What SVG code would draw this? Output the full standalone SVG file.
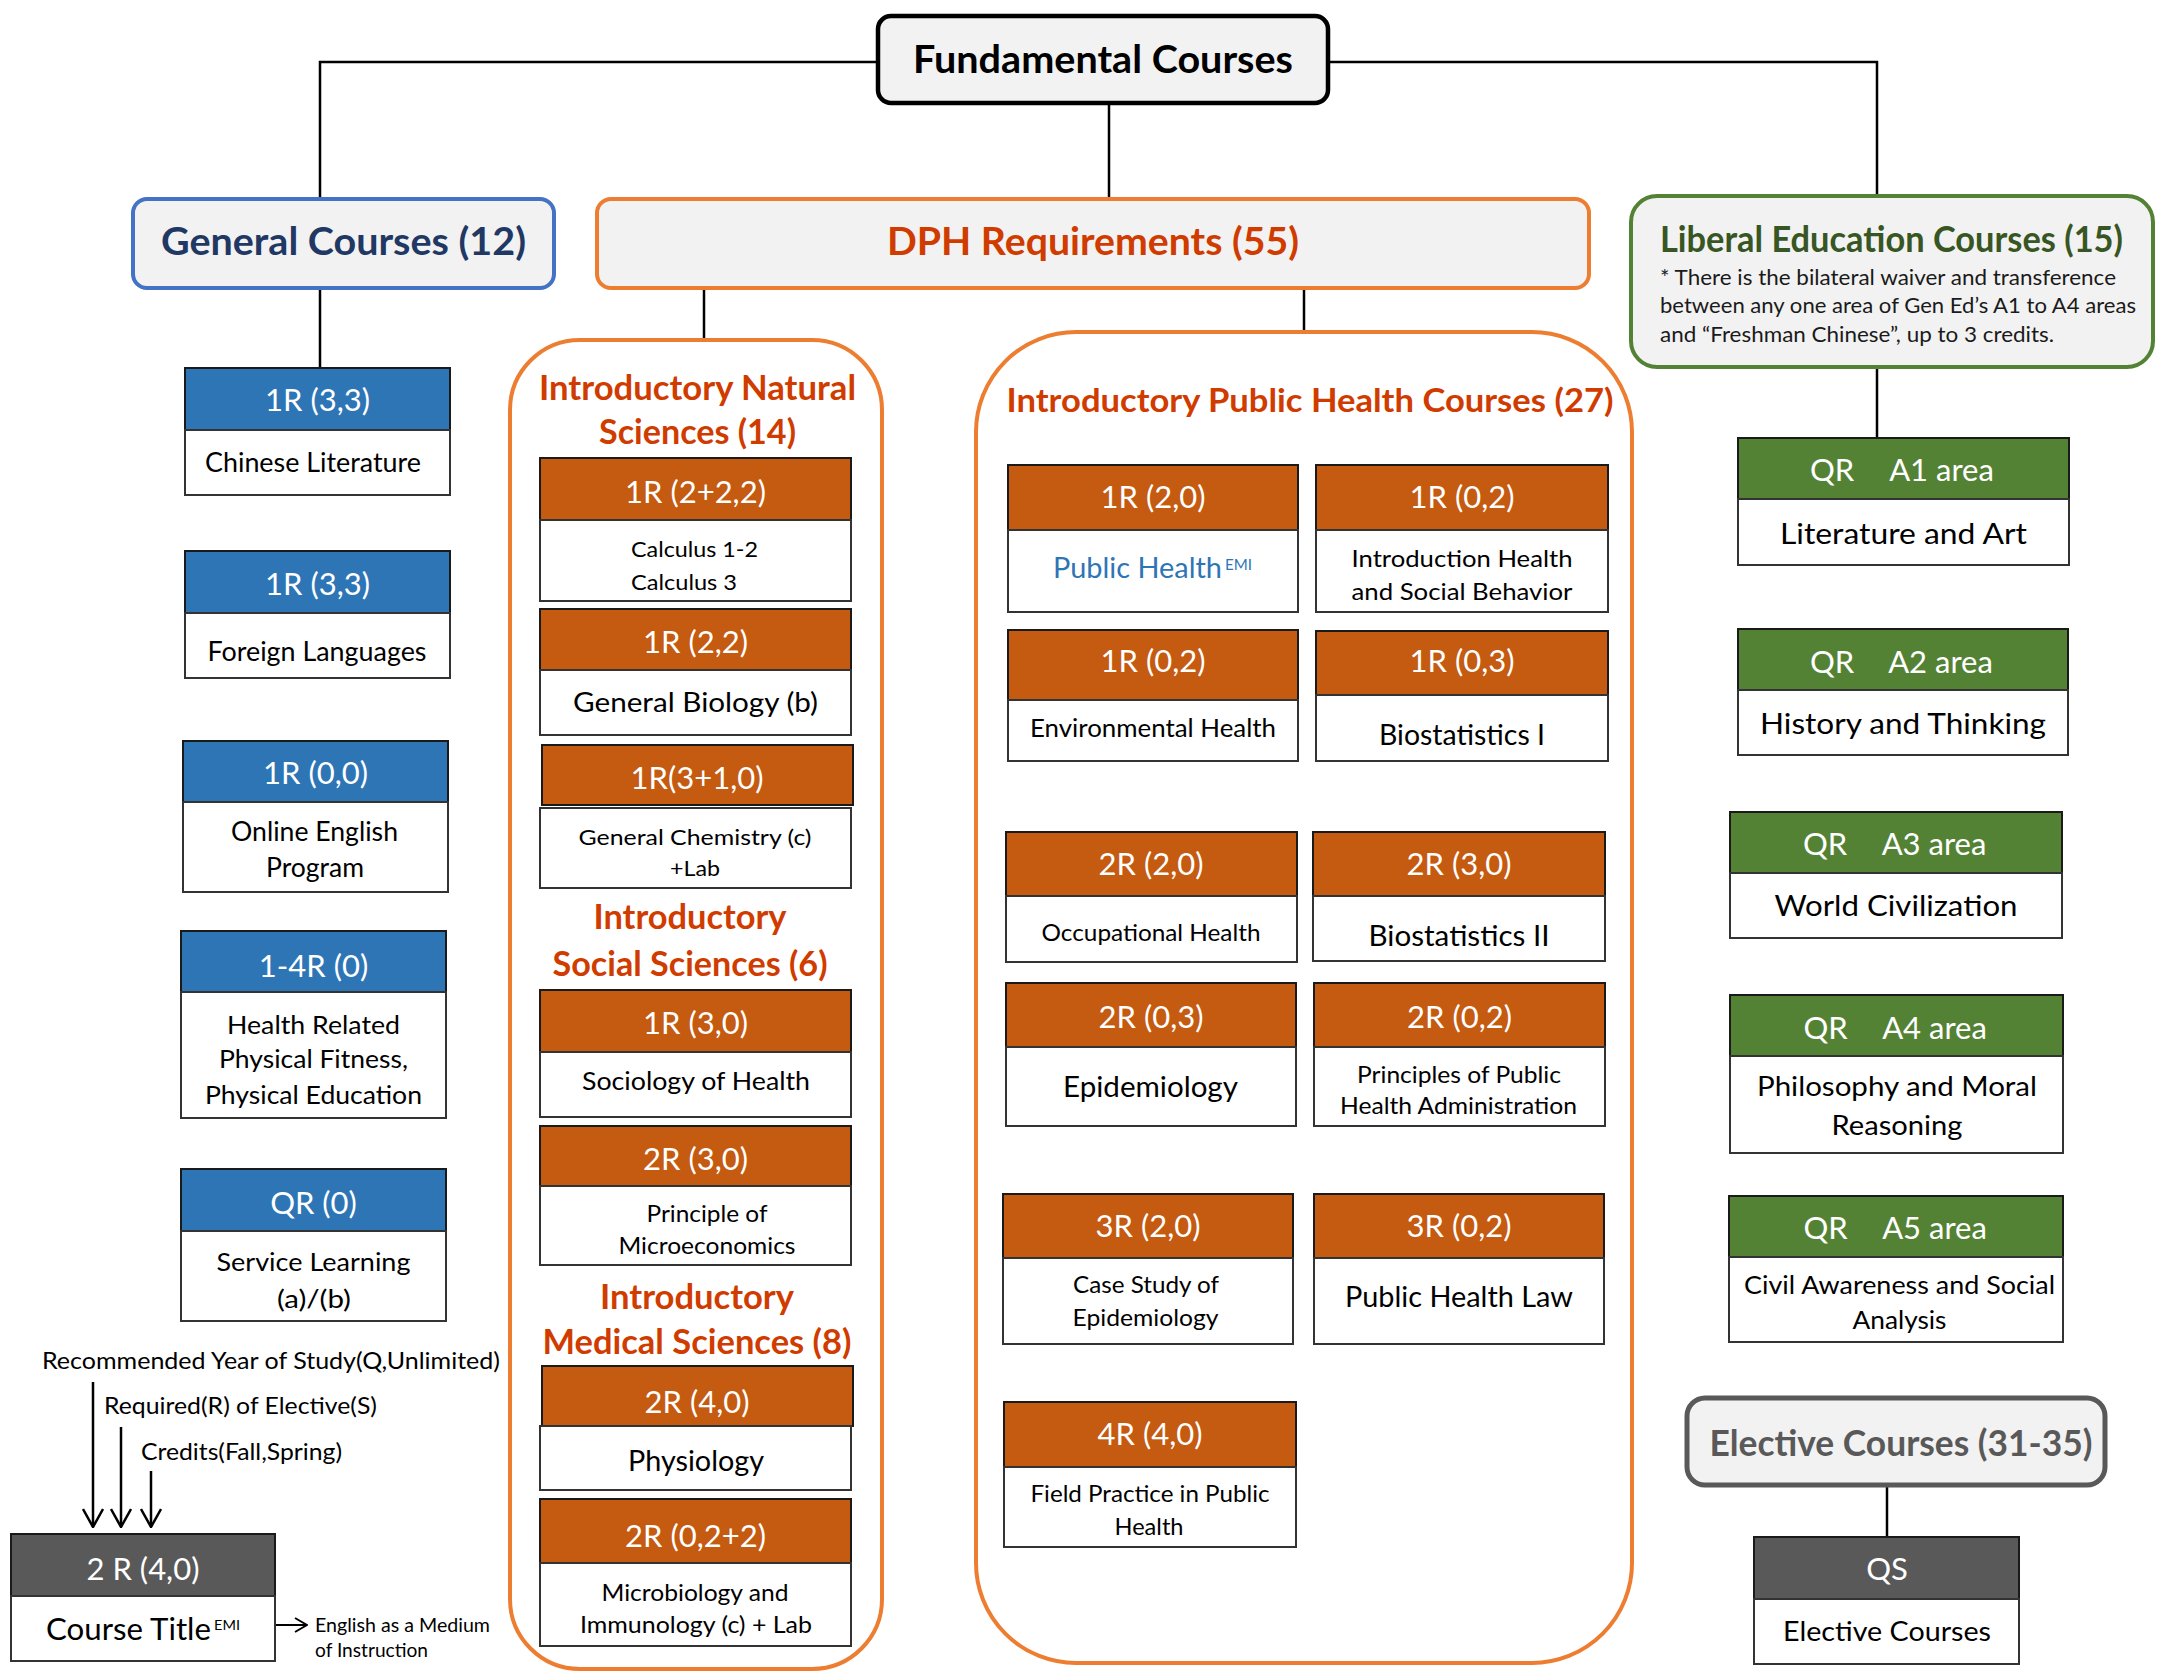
<svg xmlns="http://www.w3.org/2000/svg" width="2157" height="1675" viewBox="0 0 2157 1675">
<style>
text{font-family:Lato,"Liberation Sans",sans-serif}
.ht{fill:#fff;font-size:31px;text-anchor:middle}
.bt{fill:#000;text-anchor:middle}
.tb{font-weight:bold;text-anchor:middle}
.blue{fill:#2e75b6;stroke:#1a1a1a;stroke-width:2}
.org{fill:#c55a11;stroke:#1a1a1a;stroke-width:2}
.grn{fill:#548235;stroke:#1a1a1a;stroke-width:2}
.gry{fill:#595959;stroke:#1a1a1a;stroke-width:2}
.bd{fill:#fff;stroke:#333;stroke-width:2}
.ct{fill:none;stroke:#ed7d31;stroke-width:4}
.ln{fill:none;stroke:#000;stroke-width:2.5}
.ttlo{fill:#d03c00}
</style>
<defs>
<marker id="vee" viewBox="0 0 20 22" refX="19" refY="11" markerWidth="20" markerHeight="22" markerUnits="userSpaceOnUse" orient="auto">
<path d="M1,1 L19,11 L1,21" fill="none" stroke="#000" stroke-width="2.5"/>
</marker>
<marker id="vees" viewBox="0 0 14 16" refX="13" refY="8" markerWidth="14" markerHeight="16" markerUnits="userSpaceOnUse" orient="auto">
<path d="M1,1 L13,8 L1,15" fill="none" stroke="#000" stroke-width="2"/>
</marker>
<clipPath id="clipA5"><rect x="1729" y="1257" width="334" height="76"/></clipPath>
</defs>

<g id="connectors">
<polyline class="ln" points="877,62 320,62 320,198"/>
<polyline class="ln" points="1328,62 1877,62 1877,195"/>
<line class="ln" x1="1109" y1="103" x2="1109" y2="198"/>
<line class="ln" x1="320" y1="288" x2="320" y2="368"/>
<line class="ln" x1="704" y1="288" x2="704" y2="340"/>
<line class="ln" x1="1304" y1="288" x2="1304" y2="332"/>
<line class="ln" x1="1877" y1="368" x2="1877" y2="438"/>
<line class="ln" x1="1887" y1="1485" x2="1887" y2="1537"/>
<line class="ln" x1="93" y1="1382" x2="93" y2="1527" marker-end="url(#vee)"/>
<line class="ln" x1="121" y1="1427" x2="121" y2="1527" marker-end="url(#vee)"/>
<line class="ln" x1="151" y1="1471" x2="151" y2="1527" marker-end="url(#vee)"/>
<line x1="245" y1="1625" x2="307" y2="1625" stroke="#000" stroke-width="2" marker-end="url(#vees)"/>
</g>

<g id="fundamental">
<rect x="878" y="16" width="450" height="87" rx="13" fill="#f2f2f2" stroke="#000" stroke-width="4.5"/>
<text class="tb" x="1103" y="73" font-size="39" textLength="380" lengthAdjust="spacingAndGlyphs" fill="#000">Fundamental Courses</text>
</g>

<g id="general">
<rect x="133" y="199" width="421" height="89" rx="14" fill="#f2f2f2" stroke="#4472c4" stroke-width="4"/>
<text class="tb" x="343.5" y="255" font-size="39" textLength="365" lengthAdjust="spacingAndGlyphs" fill="#1f3864">General Courses (12)</text>
</g>

<g id="dph">
<rect x="597" y="199" width="992" height="89" rx="14" fill="#f2f2f2" stroke="#ed7d31" stroke-width="4"/>
<text class="tb ttlo" x="1093" y="255" font-size="39" textLength="412" lengthAdjust="spacingAndGlyphs">DPH Requirements (55)</text>
</g>

<g id="liberal">
<rect x="1631" y="196" width="522" height="171" rx="26" fill="#f2f2f2" stroke="#548235" stroke-width="4"/>
<text x="1660" y="252" font-size="36" font-weight="bold" fill="#375623" textLength="463" lengthAdjust="spacingAndGlyphs">Liberal Education Courses (15)</text>
<text x="1660" y="285" font-size="21" fill="#1a1a1a" textLength="456" lengthAdjust="spacingAndGlyphs">* There is the bilateral waiver and transference</text>
<text x="1660" y="313" font-size="21" fill="#1a1a1a" textLength="476" lengthAdjust="spacingAndGlyphs">between any one area of Gen Ed’s A1 to A4 areas</text>
<text x="1660" y="342" font-size="21" fill="#1a1a1a" textLength="394" lengthAdjust="spacingAndGlyphs">and “Freshman Chinese”, up to 3 credits.</text>
</g>

<!-- General column -->
<g id="gc1">
<rect class="blue" x="185" y="368" width="265" height="62"/>
<rect class="bd" x="185" y="430" width="265" height="65"/>
<text class="ht" x="317.5" y="411">1R (3,3)</text>
<text class="bt" x="313" y="472" font-size="27" textLength="216" lengthAdjust="spacingAndGlyphs">Chinese Literature</text>
</g>
<g id="gc2">
<rect class="blue" x="185" y="551" width="265" height="62"/>
<rect class="bd" x="185" y="613" width="265" height="65"/>
<text class="ht" x="317.5" y="595">1R (3,3)</text>
<text class="bt" x="317" y="661" font-size="27" textLength="219" lengthAdjust="spacingAndGlyphs">Foreign Languages</text>
</g>
<g id="gc3">
<rect class="blue" x="183" y="741" width="265" height="61"/>
<rect class="bd" x="183" y="802" width="265" height="90"/>
<text class="ht" x="315.5" y="784">1R (0,0)</text>
<text class="bt" x="314.5" y="841" font-size="26" textLength="167" lengthAdjust="spacingAndGlyphs">Online English</text>
<text class="bt" x="315" y="877" font-size="26" textLength="98" lengthAdjust="spacingAndGlyphs">Program</text>
</g>
<g id="gc4">
<rect class="blue" x="181" y="931" width="265" height="61"/>
<rect class="bd" x="181" y="992" width="265" height="126"/>
<text class="ht" x="313.5" y="977">1-4R (0)</text>
<text class="bt" x="313.5" y="1034" font-size="25" textLength="173" lengthAdjust="spacingAndGlyphs">Health Related</text>
<text class="bt" x="313.5" y="1068" font-size="25" textLength="189" lengthAdjust="spacingAndGlyphs">Physical Fitness,</text>
<text class="bt" x="313.5" y="1104" font-size="25" textLength="217" lengthAdjust="spacingAndGlyphs">Physical Education</text>
</g>
<g id="gc5">
<rect class="blue" x="181" y="1169" width="265" height="62"/>
<rect class="bd" x="181" y="1231" width="265" height="90"/>
<text class="ht" x="313.5" y="1214">QR (0)</text>
<text class="bt" x="313.5" y="1271" font-size="25" textLength="194" lengthAdjust="spacingAndGlyphs">Service Learning</text>
<text class="bt" x="314" y="1308" font-size="25" textLength="74" lengthAdjust="spacingAndGlyphs">(a)/(b)</text>
</g>

<g id="legend">
<text x="42" y="1369" font-size="23" textLength="458" lengthAdjust="spacingAndGlyphs">Recommended Year of Study(Q,Unlimited)</text>
<text x="104" y="1414" font-size="23" textLength="273" lengthAdjust="spacingAndGlyphs">Required(R) of Elective(S)</text>
<text x="141" y="1460" font-size="23" textLength="201" lengthAdjust="spacingAndGlyphs">Credits(Fall,Spring)</text>
<rect class="gry" x="11" y="1534" width="264" height="62"/>
<rect class="bd" x="11" y="1596" width="264" height="65"/>
<text class="ht" x="143" y="1580">2 R (4,0)</text>
<text x="46" y="1640" font-size="31" textLength="165" lengthAdjust="spacingAndGlyphs">Course Title</text>
<text x="214" y="1630" font-size="14" textLength="26" lengthAdjust="spacingAndGlyphs">EMI</text>
<text x="315" y="1632" font-size="19" textLength="175" lengthAdjust="spacingAndGlyphs">English as a Medium</text>
<text x="315" y="1657" font-size="19" textLength="113" lengthAdjust="spacingAndGlyphs">of Instruction</text>
</g>

<!-- Natural sciences column -->
<g id="natural">
<rect class="ct" x="510" y="340" width="372" height="1329" rx="70"/>
<text class="tb ttlo" x="697.5" y="399.5" font-size="34" textLength="317" lengthAdjust="spacingAndGlyphs">Introductory Natural</text>
<text class="tb ttlo" x="697.5" y="444" font-size="34" textLength="197" lengthAdjust="spacingAndGlyphs">Sciences (14)</text>
<text class="tb ttlo" x="690" y="929" font-size="34" textLength="193" lengthAdjust="spacingAndGlyphs">Introductory</text>
<text class="tb ttlo" x="690" y="976" font-size="34" textLength="275" lengthAdjust="spacingAndGlyphs">Social Sciences (6)</text>
<text class="tb ttlo" x="697" y="1309" font-size="34" textLength="194" lengthAdjust="spacingAndGlyphs">Introductory</text>
<text class="tb ttlo" x="697" y="1354" font-size="34" textLength="309" lengthAdjust="spacingAndGlyphs">Medical Sciences (8)</text>
</g>
<g id="ns1">
<rect class="org" x="540" y="458" width="311" height="62"/>
<rect class="bd" x="540" y="520" width="311" height="81"/>
<text class="ht" x="695.5" y="503">1R (2+2,2)</text>
<text x="631" y="557" font-size="22" textLength="127" lengthAdjust="spacingAndGlyphs">Calculus 1-2</text>
<text x="631" y="590" font-size="22" textLength="106" lengthAdjust="spacingAndGlyphs">Calculus 3</text>
</g>
<g id="ns2">
<rect class="org" x="540" y="609" width="311" height="61"/>
<rect class="bd" x="540" y="670" width="311" height="65"/>
<text class="ht" x="695.5" y="653">1R (2,2)</text>
<text class="bt" x="695.5" y="712" font-size="27" textLength="245" lengthAdjust="spacingAndGlyphs">General Biology (b)</text>
</g>
<g id="ns3">
<rect class="org" x="542" y="745" width="311" height="60"/>
<rect class="bd" x="540" y="808" width="311" height="80"/>
<text class="ht" x="697" y="789">1R(3+1,0)</text>
<text class="bt" x="695" y="844.5" font-size="22" textLength="233" lengthAdjust="spacingAndGlyphs">General Chemistry (c)</text>
<text class="bt" x="695" y="876" font-size="22" textLength="50" lengthAdjust="spacingAndGlyphs">+Lab</text>
</g>
<g id="ss1">
<rect class="org" x="540" y="990" width="311" height="62"/>
<rect class="bd" x="540" y="1052" width="311" height="65"/>
<text class="ht" x="695.5" y="1034">1R (3,0)</text>
<text class="bt" x="696" y="1090" font-size="25" textLength="228" lengthAdjust="spacingAndGlyphs">Sociology of Health</text>
</g>
<g id="ss2">
<rect class="org" x="540" y="1126" width="311" height="60"/>
<rect class="bd" x="540" y="1186" width="311" height="79"/>
<text class="ht" x="695.5" y="1170">2R (3,0)</text>
<text class="bt" x="707" y="1222" font-size="23" textLength="121" lengthAdjust="spacingAndGlyphs">Principle of</text>
<text class="bt" x="707" y="1254" font-size="23" textLength="177" lengthAdjust="spacingAndGlyphs">Microeconomics</text>
</g>
<g id="ms1">
<rect class="org" x="542" y="1366" width="311" height="60"/>
<rect class="bd" x="540" y="1426" width="311" height="64"/>
<text class="ht" x="697" y="1413">2R (4,0)</text>
<text class="bt" x="696" y="1471" font-size="28" textLength="136" lengthAdjust="spacingAndGlyphs">Physiology</text>
</g>
<g id="ms2">
<rect class="org" x="540" y="1499" width="311" height="64"/>
<rect class="bd" x="540" y="1563" width="311" height="83"/>
<text class="ht" x="695.5" y="1547">2R (0,2+2)</text>
<text class="bt" x="695" y="1600.5" font-size="24" textLength="187" lengthAdjust="spacingAndGlyphs">Microbiology and</text>
<text class="bt" x="696" y="1633" font-size="24" textLength="232" lengthAdjust="spacingAndGlyphs">Immunology (c) + Lab</text>
</g>

<!-- Public health column -->
<g id="publichealth">
<rect class="ct" x="976" y="332" width="656" height="1331" rx="100"/>
<text class="tb ttlo" x="1310" y="412" font-size="33" textLength="607" lengthAdjust="spacingAndGlyphs">Introductory Public Health Courses (27)</text>
</g>
<g id="ph1">
<rect class="org" x="1008" y="465" width="290" height="65"/>
<rect class="bd" x="1008" y="530" width="290" height="82"/>
<text class="ht" x="1153" y="508">1R (2,0)</text>
<text x="1053" y="578" font-size="28" fill="#2e75b6" textLength="169" lengthAdjust="spacingAndGlyphs">Public Health</text>
<text x="1225" y="570" font-size="15" fill="#2e75b6" textLength="27" lengthAdjust="spacingAndGlyphs">EMI</text>
</g>
<g id="ph2">
<rect class="org" x="1316" y="465" width="292" height="65"/>
<rect class="bd" x="1316" y="530" width="292" height="82"/>
<text class="ht" x="1462" y="508">1R (0,2)</text>
<text class="bt" x="1462" y="567" font-size="24" textLength="221" lengthAdjust="spacingAndGlyphs">Introduction Health</text>
<text class="bt" x="1462" y="600" font-size="24" textLength="221" lengthAdjust="spacingAndGlyphs">and Social Behavior</text>
</g>
<g id="ph3">
<rect class="org" x="1008" y="630" width="290" height="70"/>
<rect class="bd" x="1008" y="700" width="290" height="61"/>
<text class="ht" x="1153" y="672">1R (0,2)</text>
<text class="bt" x="1153" y="737" font-size="25" textLength="246" lengthAdjust="spacingAndGlyphs">Environmental Health</text>
</g>
<g id="ph4">
<rect class="org" x="1316" y="631" width="292" height="64"/>
<rect class="bd" x="1316" y="695" width="292" height="66"/>
<text class="ht" x="1462" y="672">1R (0,3)</text>
<text class="bt" x="1462" y="745" font-size="29" textLength="166" lengthAdjust="spacingAndGlyphs">Biostatistics I</text>
</g>
<g id="ph5">
<rect class="org" x="1006" y="832" width="291" height="64"/>
<rect class="bd" x="1006" y="896" width="291" height="66"/>
<text class="ht" x="1151" y="875">2R (2,0)</text>
<text class="bt" x="1151" y="941" font-size="24" textLength="219" lengthAdjust="spacingAndGlyphs">Occupational Health</text>
</g>
<g id="ph6">
<rect class="org" x="1313" y="832" width="292" height="64"/>
<rect class="bd" x="1313" y="896" width="292" height="65"/>
<text class="ht" x="1459" y="875">2R (3,0)</text>
<text class="bt" x="1459" y="946" font-size="29" textLength="181" lengthAdjust="spacingAndGlyphs">Biostatistics II</text>
</g>
<g id="ph7">
<rect class="org" x="1006" y="983" width="290" height="64"/>
<rect class="bd" x="1006" y="1047" width="290" height="79"/>
<text class="ht" x="1151" y="1028">2R (0,3)</text>
<text class="bt" x="1150.5" y="1097" font-size="29" textLength="175" lengthAdjust="spacingAndGlyphs">Epidemiology</text>
</g>
<g id="ph8">
<rect class="org" x="1314" y="983" width="291" height="64"/>
<rect class="bd" x="1314" y="1047" width="291" height="79"/>
<text class="ht" x="1459.5" y="1028">2R (0,2)</text>
<text class="bt" x="1459" y="1083" font-size="23" textLength="204" lengthAdjust="spacingAndGlyphs">Principles of Public</text>
<text class="bt" x="1458.5" y="1114" font-size="23" textLength="237" lengthAdjust="spacingAndGlyphs">Health Administration</text>
</g>
<g id="ph9">
<rect class="org" x="1003" y="1194" width="290" height="64"/>
<rect class="bd" x="1003" y="1258" width="290" height="86"/>
<text class="ht" x="1148" y="1236.5">3R (2,0)</text>
<text class="bt" x="1146" y="1293" font-size="23" textLength="146" lengthAdjust="spacingAndGlyphs">Case Study of</text>
<text class="bt" x="1145.5" y="1325.5" font-size="23" textLength="146" lengthAdjust="spacingAndGlyphs">Epidemiology</text>
</g>
<g id="ph10">
<rect class="org" x="1314" y="1194" width="290" height="64"/>
<rect class="bd" x="1314" y="1258" width="290" height="86"/>
<text class="ht" x="1459" y="1236.5">3R (0,2)</text>
<text class="bt" x="1459" y="1307" font-size="29" textLength="228" lengthAdjust="spacingAndGlyphs">Public Health Law</text>
</g>
<g id="ph11">
<rect class="org" x="1004" y="1402" width="292" height="65"/>
<rect class="bd" x="1004" y="1467" width="292" height="80"/>
<text class="ht" x="1150" y="1445">4R (4,0)</text>
<text class="bt" x="1150" y="1502" font-size="24" textLength="239" lengthAdjust="spacingAndGlyphs">Field Practice in Public</text>
<text class="bt" x="1149" y="1535" font-size="24" textLength="69" lengthAdjust="spacingAndGlyphs">Health</text>
</g>

<!-- Liberal column -->
<g id="a1">
<rect class="grn" x="1738" y="438" width="331" height="61"/>
<rect class="bd" x="1738" y="499" width="331" height="66"/>
<text class="ht" x="1832" y="481">QR</text>
<text class="ht" x="1941.5" y="481">A1 area</text>
<text class="bt" x="1903.5" y="544" font-size="29" textLength="247" lengthAdjust="spacingAndGlyphs">Literature and Art</text>
</g>
<g id="a2">
<rect class="grn" x="1738" y="629" width="330" height="61"/>
<rect class="bd" x="1738" y="690" width="330" height="65"/>
<text class="ht" x="1832" y="672.5">QR</text>
<text class="ht" x="1940.5" y="672.5">A2 area</text>
<text class="bt" x="1903" y="734" font-size="29" textLength="286" lengthAdjust="spacingAndGlyphs">History and Thinking</text>
</g>
<g id="a3">
<rect class="grn" x="1730" y="812" width="332" height="61"/>
<rect class="bd" x="1730" y="873" width="332" height="65"/>
<text class="ht" x="1825" y="854.5">QR</text>
<text class="ht" x="1934" y="854.5">A3 area</text>
<text class="bt" x="1896" y="916" font-size="29" textLength="243" lengthAdjust="spacingAndGlyphs">World Civilization</text>
</g>
<g id="a4">
<rect class="grn" x="1730" y="995" width="333" height="61"/>
<rect class="bd" x="1730" y="1056" width="333" height="97"/>
<text class="ht" x="1825.5" y="1038.5">QR</text>
<text class="ht" x="1934.5" y="1038.5">A4 area</text>
<text class="bt" x="1897" y="1096" font-size="27" textLength="280" lengthAdjust="spacingAndGlyphs">Philosophy and Moral</text>
<text class="bt" x="1897" y="1134.5" font-size="27" textLength="131" lengthAdjust="spacingAndGlyphs">Reasoning</text>
</g>
<g id="a5">
<rect class="grn" x="1729" y="1196" width="334" height="61"/>
<rect class="bd" x="1729" y="1257" width="334" height="85"/>
<text class="ht" x="1825.5" y="1238.5">QR</text>
<text class="ht" x="1934.5" y="1238.5">A5 area</text>
<text class="bt" x="1899.5" y="1294" font-size="25" textLength="311" lengthAdjust="spacingAndGlyphs">Civil Awareness and Social</text>
<text class="bt" x="1899.5" y="1329" font-size="25" textLength="94" lengthAdjust="spacingAndGlyphs" clip-path="url(#clipA5)">Analysis</text>
</g>

<g id="elective">
<rect x="1687" y="1398" width="418" height="87" rx="18" fill="#f2f2f2" stroke="#595959" stroke-width="5"/>
<text class="tb" x="1901" y="1456" font-size="36" fill="#595959" textLength="383" lengthAdjust="spacingAndGlyphs">Elective Courses (31-35)</text>
</g>
<g id="qs">
<rect class="gry" x="1754" y="1537" width="265" height="62"/>
<rect class="bd" x="1754" y="1599" width="265" height="65"/>
<text class="ht" x="1887" y="1580">QS</text>
<text class="bt" x="1887" y="1641" font-size="27" textLength="208" lengthAdjust="spacingAndGlyphs">Elective Courses</text>
</g>
</svg>
